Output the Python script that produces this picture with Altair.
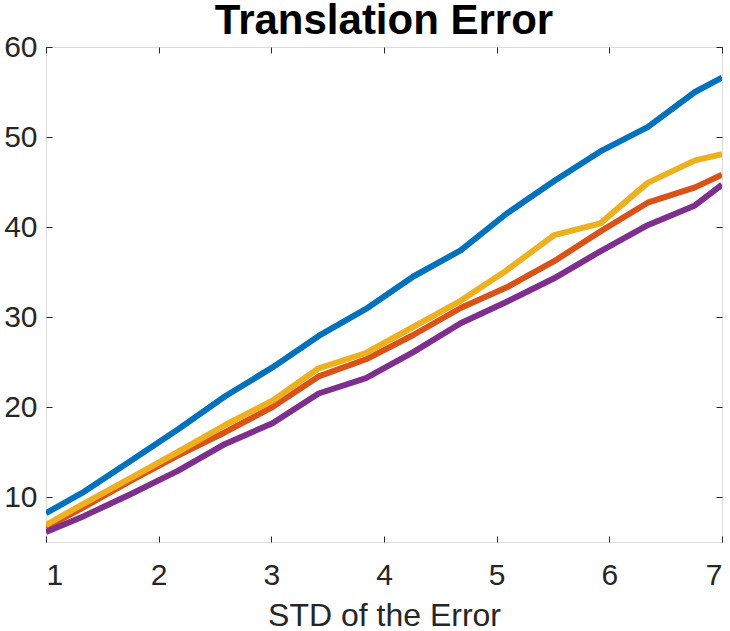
import altair as alt
import pandas as pd

x_values = [1.0, 1.34, 1.75, 2.17, 2.59, 3.01, 3.42, 3.84, 4.26, 4.68, 5.09, 5.51, 5.92, 6.34, 6.76, 7.0]
blue_vals = [8.2, 10.6, 14.0, 17.5, 21.2, 24.4, 27.9, 30.9, 34.5, 37.4, 41.5, 45.1, 48.4, 51.1, 55.0, 56.6]
orange_vals = [6.6, 8.9, 11.8, 14.6, 17.2, 20.0, 23.4, 25.3, 28.0, 31.0, 33.3, 36.2, 39.5, 42.7, 44.4, 45.8]
yellow_vals = [6.9, 9.3, 12.1, 15.0, 18.0, 20.7, 24.3, 26.0, 28.9, 31.8, 35.2, 39.1, 40.4, 44.9, 47.4, 48.1]
purple_vals = [6.1, 7.9, 10.3, 12.9, 15.9, 18.2, 21.5, 23.2, 26.1, 29.3, 31.7, 34.3, 37.3, 40.2, 42.4, 44.7]

series_names = ["Method 1", "Method 2", "Method 3", "Method 4"]
series_colors = ["#0072BD", "#D95319", "#EDB120", "#7E2F8E"]
series_vals = [blue_vals, orange_vals, yellow_vals, purple_vals]

x_ticks = [1, 2, 3, 4, 5, 6, 7]
y_ticks = [10, 20, 30, 40, 50, 60]
x_domain = [1, 7]
y_domain = [5, 60]

AX = "#262626"
FONT = "Liberation Sans"

def make_df(name, vals):
    return pd.DataFrame({"std": x_values, "err": vals, "series": name})

label_x_axis = alt.Axis(orient="bottom", values=x_ticks, format="d", ticks=False, tickSize=0,
                        domain=False, grid=False, labelFontSize=30, labelColor=AX, labelFont=FONT,
                        labelPadding=18, title="STD of the Error", titleFontSize=32, titleFont=FONT,
                        titleFontWeight="normal", titleColor=AX, titlePadding=10)
label_y_axis = alt.Axis(orient="left", values=y_ticks, format="d", ticks=False, tickSize=0,
                        domain=False, grid=False, labelFontSize=30, labelColor=AX, labelFont=FONT,
                        labelPadding=9, title=None)

def tick_axis(orient, vals):
    return alt.Axis(orient=orient, values=vals, labels=False, ticks=True, tickSize=6,
                    tickColor=AX, tickWidth=1, domain=False, grid=False, title=None, offset=-6)

axes_spec = [
    (label_x_axis, label_y_axis),
    (tick_axis("bottom", x_ticks), tick_axis("left", y_ticks)),
    (tick_axis("top", x_ticks), tick_axis("right", y_ticks)),
    (None, None),
]

layers = []
for name, col, vals, (ax_x, ax_y) in zip(series_names, series_colors, series_vals, axes_spec):
    layers.append(
        alt.Chart(make_df(name, vals)).mark_line(color=col, strokeWidth=6, strokeJoin="round", clip=True).encode(
            x=alt.X("std:Q", scale=alt.Scale(domain=x_domain, nice=False, zero=False), axis=ax_x),
            y=alt.Y("err:Q", scale=alt.Scale(domain=y_domain, nice=False, zero=False), axis=ax_y),
        )
    )

chart = alt.layer(*layers).resolve_axis(x="independent", y="independent").properties(
    width=676, height=495,
    padding={"left": 3, "top": 0, "right": 0, "bottom": 0},
    autosize=alt.AutoSizeParams(type="pad"),
    title=alt.Title("Translation Error", fontSize=42, font=FONT, fontWeight="bold", color="#000000",
                    anchor="middle", frame="group", offset=-11),
).configure_view(stroke=AX, strokeWidth=1).configure(background="white")

chart.save("out.html", embed_options={"renderer": "svg", "actions": False})
